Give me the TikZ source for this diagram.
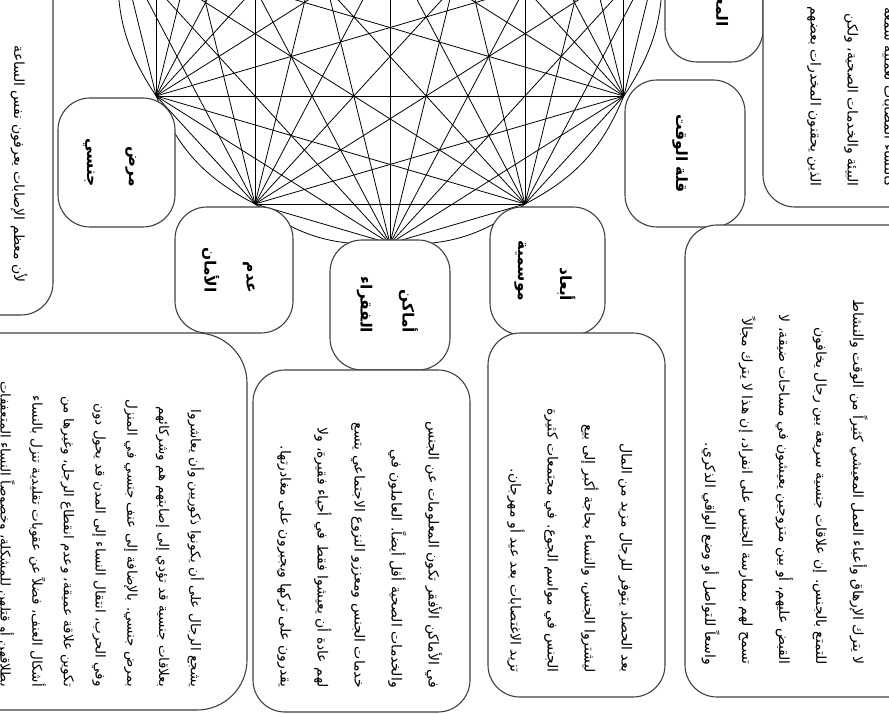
\documentclass[tikz,border=0pt]{standalone}
\usepackage{fontspec}
\newfontfamily\arabicfont[Script=Arabic]{DejaVu Sans}
\TeXXeTstate=1
\newcommand{\ar}[1]{\beginR #1\endR}
\newcommand{\arlines}[1]{\begin{tabular}{@{}r@{}}#1\end{tabular}}

\begin{document}
\begin{tikzpicture}[
  x=1pt,y=-1pt,
  web/.style={line width=0.8pt,draw=black},
  box/.style={draw=black!75,line width=1.1pt,fill=white,rounded corners=32pt,inner sep=0pt},
  lbl/.style={rotate=-90,font=\arabicfont\bfseries\fontsize{15.5}{42}\selectfont,inner sep=0pt},
  txt/.style={rotate=-90,anchor=east,font=\arabicfont\fontsize{14}{37}\selectfont,inner sep=0pt}
]
\path[use as bounding box] (0,0) rectangle (889,714);
\clip (0,0) rectangle (889,714);

% points of the web
\foreach \k in {0,...,11}
  \coordinate (v\k) at ({390+270*cos(90+30*\k)},{-51.5+295*sin(90+30*\k)});

% every cause tied to every other one
\foreach \i in {0,...,10} {
  \pgfmathtruncatemacro{\first}{\i+1}
  \foreach \j in {\first,...,11}
    \draw[web] (v\i) -- (v\j);
}
\foreach \i in {0,...,11} {
  \pgfmathtruncatemacro{\nxt}{mod(\i+1,12)}
  \draw[web] (v\i) to[bend left=20] (v\nxt);
}

% boxes
\node[box,minimum width=113pt,minimum height=355pt] (tl) at (-3.5,137.5) {};
\node[box,minimum width=117pt,minimum height=129pt] (mrd) at (116.5,162.5) {};
\node[box,minimum width=118pt,minimum height=126pt] (adm) at (234,270) {};
\node[box,minimum width=120pt,minimum height=130pt] (amk) at (390,305) {};
\node[box,minimum width=115pt,minimum height=128pt] (abd) at (547.5,271) {};
\node[box,minimum width=120pt,minimum height=147pt] (qlt) at (685,153.5) {};
\node[box,minimum width=98pt,minimum height=132pt] (mtq) at (714,-4) {};
\node[box,minimum width=197pt,minimum height=307pt] (tr) at (861.5,53.5) {};
\node[box,minimum width=275pt,minimum height=472pt] (rb) at (822.5,461) {};
\node[box,minimum width=177pt,minimum height=364pt] (hsd) at (576.5,515) {};
\node[box,minimum width=217pt,minimum height=342pt] (bm) at (361.5,541) {};
\node[box,rounded corners=50pt,minimum width=307pt,minimum height=377pt] (bl) at (93.5,521.5) {};

% labels
\node[lbl] (mrdl) at (mrd) {\arlines{\ar{مرض}\\\ar{جنسي}}};
\node[lbl] (adml) at (adm) {\arlines{\ar{عدم}\\\ar{الأمان}}};
\node[lbl] (amkl) at (amk) {\arlines{\ar{أماكن}\\\ar{الفقراء}}};
\node[lbl] (abdl) at (abd) {\arlines{\ar{أبعاد}\\\ar{موسمية}}};
\node[lbl] (qltl) at (680,153.5) {\ar{قلة الوقت}};
\node[lbl] (mtql) at (722,-12) {\ar{المعتقدات}};

% texts
\node[txt] (tlt) at (19,283) {\ar{لأن معظم الإصابات يعرفون نفس الساعة}};
\node[txt] (trt) at (855,187) {\arlines{\ar{كالنساء المصابات لعملية سمعة}\\
  \ar{البيئة والخدمات الصحية، ولكن}\\
  \ar{الذين يحقنون المخدرات بعضهم}}};
\node[txt] (rbt) at (786.5,665) {\arlines{\ar{لا يترك الإرهاق وأعباء العمل المعيشي كثيراً من الوقت والنشاط}\\
  \ar{للتمتع بالجنس. إن علاقات جنسية سريعة بين رجال يخافون}\\
  \ar{القبض عليهم، أو بين متزوجين يعيشون في مساحات ضيقة، لا}\\
  \ar{تسمح لهم بممارسة الجنس على انفراد، إن هذا لا يترك مجالاً}\\
  \ar{واسعاً للتواصل أو وضع الواقي الذكري.}}};
\node[txt] (hsdt) at (573.5,673) {\arlines{\ar{بعد الحصاد يتوفر للرجال مزيد من المال}\\
  \ar{ليشتروا الجنس، والنساء بحاجة أكبر إلى بيع}\\
  \ar{الجنس في مواسم الجوع. في مجتمعات كثيرة}\\
  \ar{تزيد الاغتصابات بعد عيد أو مهرجان.}}};
\node[txt] (bmt) at (362,688) {\arlines{\ar{في الأماكن الأفقر تكون المعلومات عن الجنس}\\
  \ar{والخدمات الصحية أقل أيضاً. العاملون في}\\
  \ar{خدمات الجنس ومعززو النزوع الاجتماعي يتسع}\\
  \ar{لهم عادة أن يعيشوا فقط في أحياء فقيرة، ولا}\\
  \ar{يقدرون على تركها ويجبرون على مغادرتها.}}};
\node[txt,font=\arabicfont\fontsize{13.5}{31.7}\selectfont] (blt) at (102,687) {\arlines{\ar{يشجع الرجال على أن يكونوا ذكوريين وأن يعاشروا}\\
  \ar{بعلاقات جنسية قد تؤدي إلى إصابتهم هم وشركائهم}\\
  \ar{بمرض جنسي. بالإضافة إلى عنف جنسي في المنزل}\\
  \ar{وفي الحرب، انتقال النساء إلى المدن قد يحول دون}\\
  \ar{تكوين علاقة عميقة، وعدم انقطاع الرجل، وغيرها من}\\
  \ar{أشكال العنف، فضلاً عن عقوبات تقليدية تنزل بالنساء}\\
  \ar{بطلاقهن أو قتلهن للمشكلة، وخصوصاً النساء المتعففات}}};
\end{tikzpicture}
\end{document}
